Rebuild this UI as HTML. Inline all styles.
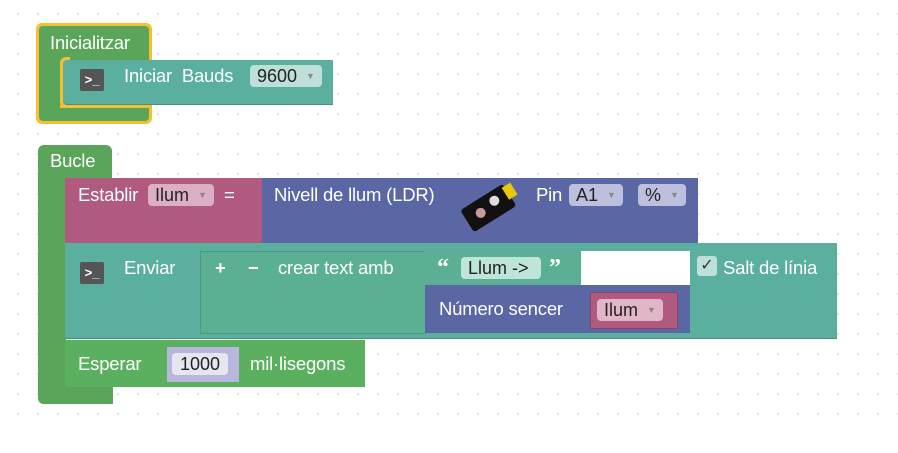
<!DOCTYPE html>
<html><head><meta charset="utf-8"><style>
body{margin:0;width:898px;height:453px;overflow:hidden;background:#fff;font-family:"Liberation Sans",sans-serif;}
#bg{position:absolute;left:0;top:0;width:898px;height:420px;background-image:radial-gradient(circle,#e0e0e0 1px,transparent 1.5px);background-size:20px 20px;background-position:8px 4px;}
.b{position:absolute;box-sizing:border-box;}
.t{position:absolute;color:#fff;font-size:18.5px;white-space:nowrap;letter-spacing:-0.2px;}
.f{position:absolute;border-radius:4px;font-size:18px;color:#222;padding:0 7px;box-sizing:border-box;height:22px;line-height:22px;white-space:nowrap;}
.ar{font-size:9px;color:#888;margin-left:9px;vertical-align:3px;}
.ic{position:absolute;width:24px;height:22px;background:#555;border-radius:2px;color:#fff;font-size:13px;font-weight:bold;line-height:22px;text-align:center;}
</style></head><body>
<div id="bg"></div>

<!-- Inicialitzar -->
<div class="b" style="left:36px;top:23px;width:116px;height:101px;background:#f4c02f;border-radius:6px;"></div>
<div class="b" style="left:39px;top:26px;width:110px;height:95px;background:#5ba55b;border-radius:4px;"></div>
<div class="b" style="left:60px;top:57px;width:10px;height:51px;background:#f4c02f;border-radius:6px 0 0 6px;"></div>
<div class="b" style="left:60px;top:105px;width:90px;height:3px;background:#f4c02f;"></div>
<div class="t" style="left:50px;top:32px;">Inicialitzar</div>
<div class="b" style="left:63px;top:60px;width:270px;height:45px;background:#5aaf9f;border-bottom:1px solid #4a8f82;border-radius:4px 0 0 4px;"></div>
<div class="ic" style="left:80px;top:69px;">&gt;_</div>
<div class="t" style="left:124px;top:65px;">Iniciar&nbsp; Bauds</div>
<div class="f" style="left:250px;top:65px;background:#bfe0d8;">9600<span class="ar">▼</span></div>

<!-- Bucle -->
<div class="b" style="left:38px;top:145px;width:74px;height:40px;background:#5ba55b;border-radius:6px 6px 0 0;"></div>
<div class="b" style="left:38px;top:178px;width:28px;height:226px;background:#5ba55b;border-radius:0 0 0 6px;"></div>
<div class="b" style="left:38px;top:385px;width:75px;height:19px;background:#5ba55b;border-radius:0 0 0 6px;"></div>
<div class="t" style="left:50px;top:150px;">Bucle</div>

<!-- Establir -->
<div class="b" style="left:65px;top:178px;width:197px;height:65px;background:#b05a80;"></div>
<div class="t" style="left:78px;top:184px;">Establir</div>
<div class="f" style="left:148px;top:184px;background:#dcb0c4;">Ilum<span class="ar">▼</span></div>
<div class="t" style="left:224px;top:184px;">=</div>
<div class="b" style="left:262px;top:178px;width:436px;height:65px;background:#5b67a5;"></div>
<div class="t" style="left:274px;top:184px;">Nivell de llum (LDR)</div>
<svg style="position:absolute;left:455px;top:182px" width="70" height="50"><g transform="rotate(-32 35 25)"><rect x="8" y="12" width="50" height="26" rx="3" fill="#111"/><circle cx="24" cy="25" r="5" fill="#c99"/><circle cx="42" cy="22" r="5" fill="#ddd"/><rect x="55" y="15" width="10" height="14" fill="#e8c800"/></g></svg>
<div class="t" style="left:536px;top:184px;">Pin</div>
<div class="f" style="left:569px;top:184px;background:#bcc0de;">A1<span class="ar">▼</span></div>
<div class="f" style="left:638px;top:184px;background:#bcc0de;">%<span class="ar">▼</span></div>

<!-- Enviar -->
<div class="b" style="left:65px;top:243px;width:772px;height:96px;background:#5aaf9f;border-bottom:1px solid #4a8f82;"></div>
<div class="ic" style="left:80px;top:262px;">&gt;_</div>
<div class="t" style="left:124px;top:257px;">Enviar</div>
<div class="b" style="left:200px;top:251px;width:226px;height:83px;background:#5bb094;border:1px solid #4c9a80;"></div>
<div class="t" style="left:215px;top:257px;font-weight:bold;">+</div>
<div class="t" style="left:248px;top:257px;font-weight:bold;">−</div>
<div class="t" style="left:278px;top:257px;">crear text amb</div>
<div class="b" style="left:425px;top:251px;width:156px;height:34px;background:#5bb094;"></div>
<div class="b" style="left:581px;top:251px;width:109px;height:34px;background:#fff;"></div>
<div class="t" style="left:437px;top:255px;font-weight:bold;font-family:'Liberation Serif',serif;font-size:24px;">“</div>
<div class="f" style="left:461px;top:257px;background:#bfe5d8;">Llum -&gt;&nbsp;</div>
<div class="t" style="left:549px;top:255px;font-weight:bold;font-family:'Liberation Serif',serif;font-size:24px;">”</div>
<div class="b" style="left:425px;top:285px;width:265px;height:48px;background:#5b67a5;"></div>
<div class="t" style="left:439px;top:298px;">Número sencer</div>
<div class="b" style="left:590px;top:292px;width:88px;height:37px;background:#b05a80;border:1px solid #8d4466;"></div>
<div class="f" style="left:597px;top:299px;background:#e0b6c8;">Ilum<span class="ar">▼</span></div>
<div class="b" style="left:697px;top:256px;width:20px;height:20px;background:#bfe0d8;border-radius:3px;color:#333;font-size:16px;line-height:20px;text-align:center;">✓</div>
<div class="t" style="left:723px;top:257px;">Salt de línia</div>

<!-- Esperar -->
<div class="b" style="left:65px;top:340px;width:300px;height:47px;background:#5bb060;border-radius:0 0 0 6px;"></div>
<div class="t" style="left:78px;top:353px;">Esperar</div>
<div class="b" style="left:167px;top:347px;width:72px;height:35px;background:#b8b6dc;"></div>
<div class="f" style="left:172px;top:353px;background:#e6e6f2;padding:0 8px;">1000</div>
<div class="t" style="left:250px;top:353px;">mil·lisegons</div>
</body></html>
